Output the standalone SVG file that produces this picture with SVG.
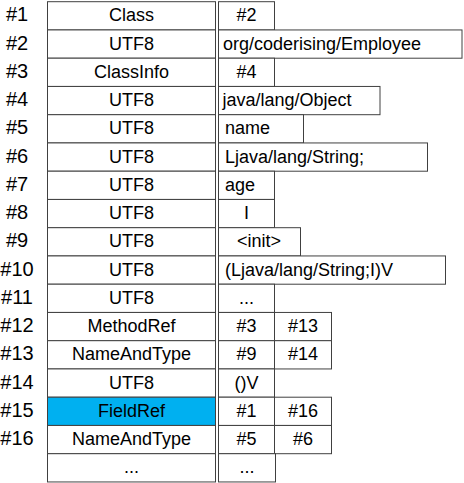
<svg xmlns="http://www.w3.org/2000/svg" width="464" height="483" viewBox="0 0 464 483">
<style>
rect{fill:#ffffff;stroke:#404040;stroke-width:1}
rect.hl{fill:#00b0f0}
text{font-family:"Liberation Sans",Arial,sans-serif;font-size:18px;fill:#000}
.lbl{font-size:20px;text-anchor:middle}
.c{text-anchor:middle}
</style>
<rect width="464" height="483" style="fill:#ffffff;stroke:none"/>
<g id="row1" transform="translate(0,1.7)">
<text class="lbl" x="17" y="19.7">#1</text>
<rect x="47.5" y="0" width="168" height="28.25"/><text class="c" x="131.5" y="19.7">Class</text>
<rect x="218.5" y="0" width="56" height="28.25"/><text class="c" x="246.5" y="19.7">#2</text>
</g>
<g id="row2" transform="translate(0,29.95)">
<text class="lbl" x="17" y="19.7">#2</text>
<rect x="47.5" y="0" width="168" height="28.25"/><text class="c" x="131.5" y="19.7">UTF8</text>
<rect x="218.5" y="0" width="243.5" height="28.25"/><text x="223" y="19.7">org/coderising/Employee</text>
</g>
<g id="row3" transform="translate(0,58.2)">
<text class="lbl" x="17" y="19.7">#3</text>
<rect x="47.5" y="0" width="168" height="28.25"/><text class="c" x="131.5" y="19.7">ClassInfo</text>
<rect x="218.5" y="0" width="56" height="28.25"/><text class="c" x="246.5" y="19.7">#4</text>
</g>
<g id="row4" transform="translate(0,86.45)">
<text class="lbl" x="17" y="19.7">#4</text>
<rect x="47.5" y="0" width="168" height="28.25"/><text class="c" x="131.5" y="19.7">UTF8</text>
<rect x="218.5" y="0" width="161.5" height="28.25"/><text x="222.5" y="19.7">java/lang/Object</text>
</g>
<g id="row5" transform="translate(0,114.7)">
<text class="lbl" x="17" y="19.7">#5</text>
<rect x="47.5" y="0" width="168" height="28.25"/><text class="c" x="131.5" y="19.7">UTF8</text>
<rect x="218.5" y="0" width="85" height="28.25"/><text x="225" y="19.7">name</text>
</g>
<g id="row6" transform="translate(0,142.95)">
<text class="lbl" x="17" y="19.7">#6</text>
<rect x="47.5" y="0" width="168" height="28.25"/><text class="c" x="131.5" y="19.7">UTF8</text>
<rect x="218.5" y="0" width="209" height="28.25"/><text x="225" y="19.7">Ljava/lang/String;</text>
</g>
<g id="row7" transform="translate(0,171.2)">
<text class="lbl" x="17" y="19.7">#7</text>
<rect x="47.5" y="0" width="168" height="28.25"/><text class="c" x="131.5" y="19.7">UTF8</text>
<rect x="218.5" y="0" width="56" height="28.25"/><text x="225" y="19.7">age</text>
</g>
<g id="row8" transform="translate(0,199.45)">
<text class="lbl" x="17" y="19.7">#8</text>
<rect x="47.5" y="0" width="168" height="28.25"/><text class="c" x="131.5" y="19.7">UTF8</text>
<rect x="218.5" y="0" width="56" height="28.25"/><text class="c" x="246.5" y="19.7">I</text>
</g>
<g id="row9" transform="translate(0,227.7)">
<text class="lbl" x="17" y="19.7">#9</text>
<rect x="47.5" y="0" width="168" height="28.25"/><text class="c" x="131.5" y="19.7">UTF8</text>
<rect x="218.5" y="0" width="82" height="28.25"/><text class="c" x="259" y="19.7">&lt;init&gt;</text>
</g>
<g id="row10" transform="translate(0,255.95)">
<text class="lbl" x="17" y="19.7">#10</text>
<rect x="47.5" y="0" width="168" height="28.25"/><text class="c" x="131.5" y="19.7">UTF8</text>
<rect x="218.5" y="0" width="227" height="28.25"/><text x="225" y="19.7">(Ljava/lang/String;I)V</text>
</g>
<g id="row11" transform="translate(0,284.2)">
<text class="lbl" x="17" y="19.7">#11</text>
<rect x="47.5" y="0" width="168" height="28.25"/><text class="c" x="131.5" y="19.7">UTF8</text>
<rect x="218.5" y="0" width="56" height="28.25"/><text class="c" x="246.5" y="19.7">...</text>
</g>
<g id="row12" transform="translate(0,312.45)">
<text class="lbl" x="17" y="19.7">#12</text>
<rect x="47.5" y="0" width="168" height="28.25"/><text class="c" x="131.5" y="19.7">MethodRef</text>
<rect x="218.5" y="0" width="56" height="28.25"/><text class="c" x="246.5" y="19.7">#3</text>
<rect x="274.5" y="0" width="57" height="28.25"/><text class="c" x="303" y="19.7">#13</text>
</g>
<g id="row13" transform="translate(0,340.7)">
<text class="lbl" x="17" y="19.7">#13</text>
<rect x="47.5" y="0" width="168" height="28.25"/><text class="c" x="131.5" y="19.7">NameAndType</text>
<rect x="218.5" y="0" width="56" height="28.25"/><text class="c" x="246.5" y="19.7">#9</text>
<rect x="274.5" y="0" width="57" height="28.25"/><text class="c" x="303" y="19.7">#14</text>
</g>
<g id="row14" transform="translate(0,368.95)">
<text class="lbl" x="17" y="19.7">#14</text>
<rect x="47.5" y="0" width="168" height="28.25"/><text class="c" x="131.5" y="19.7">UTF8</text>
<rect x="218.5" y="0" width="56" height="28.25"/><text class="c" x="246.5" y="19.7">()V</text>
</g>
<g id="row15" transform="translate(0,397.2)">
<text class="lbl" x="17" y="19.7">#15</text>
<rect class="hl" x="47.5" y="0" width="168" height="28.25"/><text class="c" x="131.5" y="19.7">FieldRef</text>
<rect x="218.5" y="0" width="56" height="28.25"/><text class="c" x="246.5" y="19.7">#1</text>
<rect x="274.5" y="0" width="57" height="28.25"/><text class="c" x="303" y="19.7">#16</text>
</g>
<g id="row16" transform="translate(0,425.45)">
<text class="lbl" x="17" y="19.7">#16</text>
<rect x="47.5" y="0" width="168" height="28.25"/><text class="c" x="131.5" y="19.7">NameAndType</text>
<rect x="218.5" y="0" width="56" height="28.25"/><text class="c" x="246.5" y="19.7">#5</text>
<rect x="274.5" y="0" width="57" height="28.25"/><text class="c" x="303" y="19.7">#6</text>
</g>
<g id="row17" transform="translate(0,453.7)">
<rect x="47.5" y="0" width="168" height="28.25"/><text class="c" x="131.5" y="19.7">...</text>
<rect x="218.5" y="0" width="57" height="28.25"/><text class="c" x="247" y="19.7">...</text>
</g>
<g id="connectors"/>
</svg>
